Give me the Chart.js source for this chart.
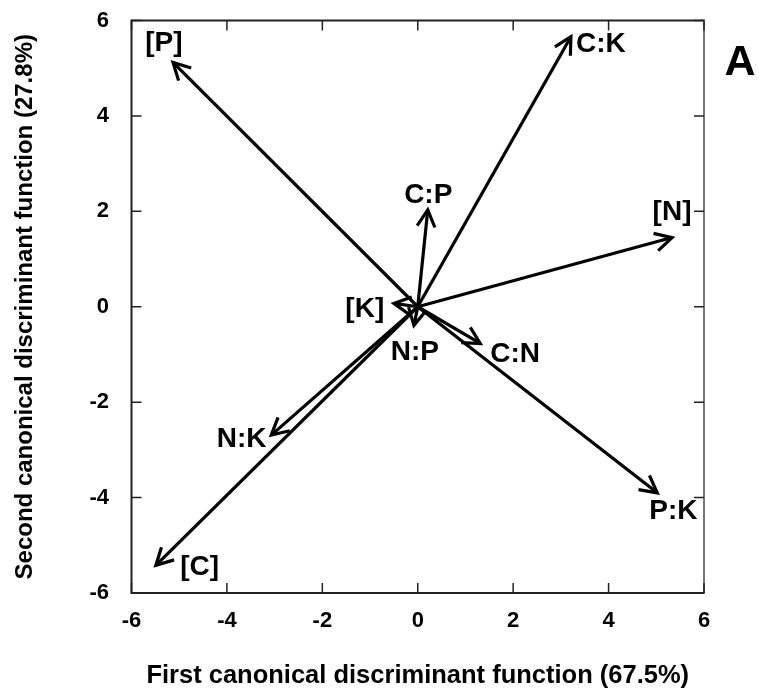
<!DOCTYPE html>
<html><head><meta charset="utf-8">
<script src="https://cdn.jsdelivr.net/npm/chart.js@4/dist/chart.umd.min.js"></script>
<style>html,body{margin:0;padding:0;background:#fff}#wrap{width:759px;height:693px;position:relative}</style>
</head><body><div id="wrap"><canvas id="c" width="759" height="693"></canvas></div>
<script>
// ---- data ----
const vectorNames = ['[P]', 'C:K', 'C:P', '[N]', '[K]', 'N:P', 'C:N', 'P:K', 'N:K', '[C]'];
const tipX = [-5.13, 3.21, 0.21, 5.33, -0.50, -0.08, 1.31, 5.02, -3.07, -5.49];
const tipY = [5.12, 5.66, 2.03, 1.45, 0.07, -0.39, -0.77, -3.90, -2.69, -5.42];
const labelX = [-5.32, 3.84, 0.22, 5.33, -1.11, -0.06, 2.04, 5.36, -3.69, -4.57];
const labelY = [5.57, 5.55, 2.38, 2.02, 0.00, -0.91, -0.95, -4.23, -2.74, -5.41];
const tickValues = [-6, -4, -2, 0, 2, 4, 6];
const xTitle = 'First canonical discriminant function (67.5%)';
const yTitle = 'Second canonical discriminant function (27.8%)';
const panelLetter = 'A';

const FAM = 'Arial, "Liberation Sans", Helvetica, sans-serif';

const decor = {
  id: 'decor',
  afterDatasetsDraw(chart) {
    const ctx = chart.ctx, xs = chart.scales.x, ys = chart.scales.y, a = chart.chartArea;
    ctx.save();
    // arrowheads + labels
    chart.data.datasets.forEach((ds, i) => {
      const pts = chart.getDatasetMeta(i).data;
      const p0 = pts[0], p1 = pts[1];
      const ang = Math.atan2(p1.y - p0.y, p1.x - p0.x);
      const L = 19, h = 28 * Math.PI / 180;
      ctx.beginPath();
      ctx.moveTo(p1.x - L * Math.cos(ang - h), p1.y - L * Math.sin(ang - h));
      ctx.lineTo(p1.x, p1.y);
      ctx.lineTo(p1.x - L * Math.cos(ang + h), p1.y - L * Math.sin(ang + h));
      ctx.lineWidth = 3.2; ctx.strokeStyle = '#000'; ctx.lineJoin = 'miter'; ctx.lineCap = 'butt';
      ctx.stroke();
      const fs = 28;
      ctx.font = 'bold ' + fs + 'px ' + FAM;
      ctx.fillStyle = '#000'; ctx.textAlign = 'center'; ctx.textBaseline = 'alphabetic';
      ctx.fillText(vectorNames[i], xs.getPixelForValue(labelX[i]), ys.getPixelForValue(labelY[i]) + 0.358 * fs);
    });
    // frame
    ctx.lineWidth = 2;
    ctx.lineCap = 'square';
    ctx.strokeStyle = '#222';
    ctx.beginPath();
    ctx.moveTo(a.left, a.top); ctx.lineTo(a.right, a.top);
    ctx.moveTo(a.left, a.top); ctx.lineTo(a.left, a.bottom); ctx.lineTo(a.right, a.bottom);
    ctx.stroke();
    ctx.strokeStyle = '#777';
    ctx.beginPath(); ctx.moveTo(a.right, a.top); ctx.lineTo(a.right, a.bottom); ctx.stroke();
    // inward ticks on all sides
    const T = 10;
    ctx.lineWidth = 1.5; ctx.lineCap = 'butt'; ctx.strokeStyle = '#222';
    ctx.beginPath();
    tickValues.forEach(v => {
      const px = xs.getPixelForValue(v), py = ys.getPixelForValue(v);
      ctx.moveTo(px, a.bottom); ctx.lineTo(px, a.bottom - T);
      ctx.moveTo(px, a.top); ctx.lineTo(px, a.top + T);
      ctx.moveTo(a.left, py); ctx.lineTo(a.left + T, py);
      ctx.moveTo(a.right, py); ctx.lineTo(a.right - T, py);
    });
    ctx.stroke();
    // panel letter
    ctx.font = 'bold 43px ' + FAM;
    ctx.fillStyle = '#000'; ctx.textAlign = 'center'; ctx.textBaseline = 'alphabetic';
    ctx.fillText(panelLetter, a.right + 36, a.top + 54);
    ctx.restore();
  }
};

const tickFont = { family: FAM, size: 22, weight: 'bold' };

new Chart(document.getElementById('c'), {
  type: 'scatter',
  data: {
    datasets: vectorNames.map((n, i) => ({
      label: n,
      data: [{ x: 0, y: 0 }, { x: tipX[i], y: tipY[i] }],
      showLine: true, borderColor: '#000', borderWidth: 3.2,
      pointRadius: 0, pointHoverRadius: 0, fill: false
    }))
  },
  options: {
    responsive: false, animation: false, devicePixelRatio: 1,
    layout: { padding: { top: 20.5, right: 55, bottom: 0, left: 0 } },
    plugins: { legend: { display: false }, tooltip: { enabled: false } },
    scales: {
      x: {
        type: 'linear', min: -6, max: 6,
        afterBuildTicks: s => { s.ticks = tickValues.map(v => ({ value: v })); },
        afterFit: s => { s.height = 100; s.paddingLeft = 0; s.paddingRight = 0; },
        grid: { display: false }, border: { display: false },
        ticks: { font: tickFont, color: '#000', padding: 7, maxRotation: 0, callback: v => String(v) },
        title: { display: true, text: xTitle, color: '#000', font: { family: FAM, size: 25.5, weight: 'bold' }, padding: { top: 0, bottom: 2 } }
      },
      y: {
        type: 'linear', min: -6, max: 6,
        afterBuildTicks: s => { s.ticks = tickValues.map(v => ({ value: v })); },
        afterFit: s => { s.width = 131.5; s.paddingTop = 0; s.paddingBottom = 0; },
        grid: { display: false }, border: { display: false },
        ticks: { font: tickFont, color: '#000', padding: 14.5, callback: v => String(v) },
        title: { display: true, text: yTitle, color: '#000', font: { family: FAM, size: 24, weight: 'bold' }, padding: { top: 11, bottom: 0 } }
      }
    }
  },
  plugins: [decor]
});
</script></body></html>
